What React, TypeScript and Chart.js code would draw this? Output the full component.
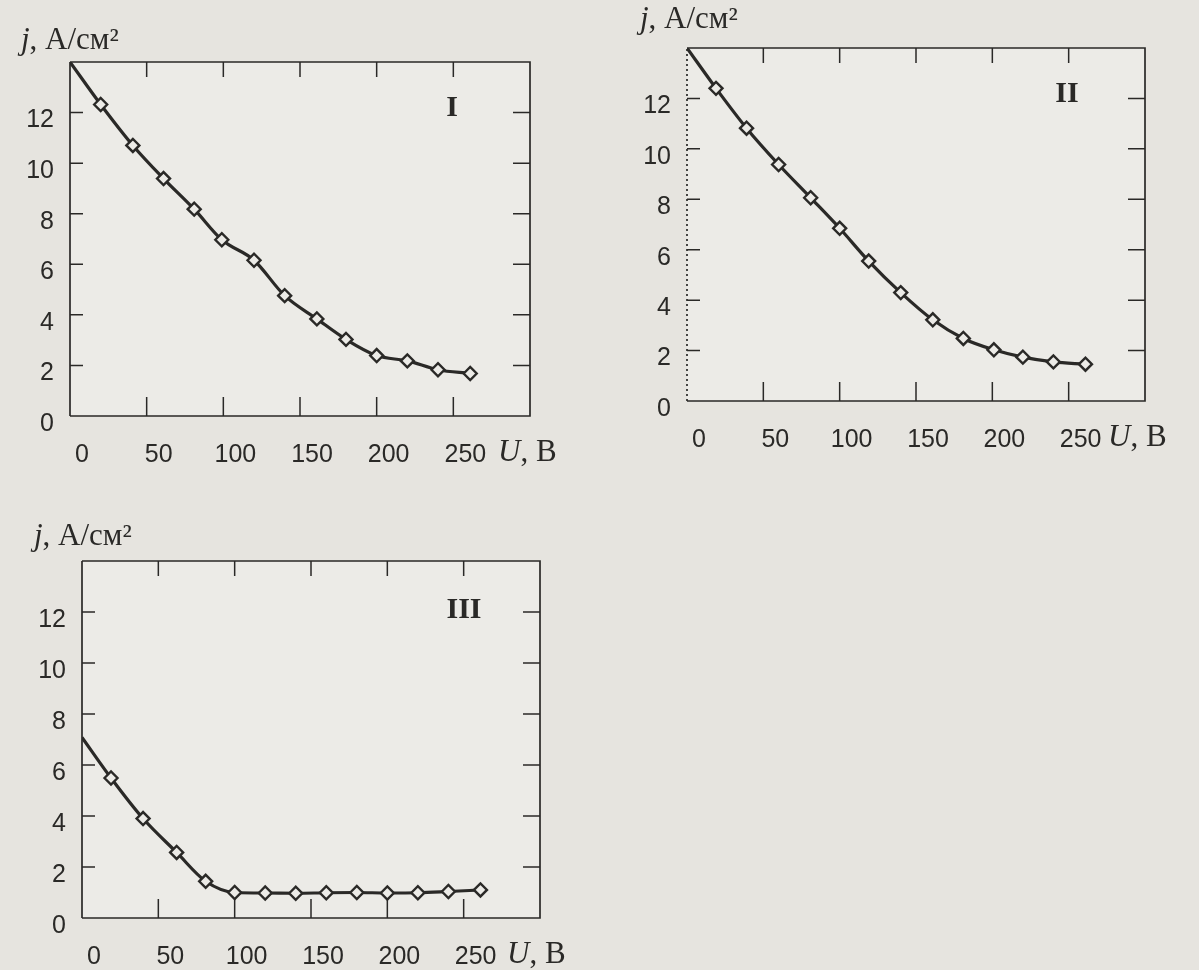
import React, { useEffect, useRef } from "react";
import { Chart, registerables } from "chart.js";

Chart.register(...registerables);

// Inward tick positions shared by all three panels
const voltageTicks = [50, 100, 150, 200, 250];
const currentTicks = [2, 4, 6, 8, 10, 12];

// Panel I: current density j (A/cm²) vs voltage U (V)
const uI = [0, 20, 41, 61, 81, 99, 120, 140, 161, 180, 200, 220, 240, 261];
const jI = [14, 12.32, 10.7, 9.39, 8.18, 6.97, 6.16, 4.76, 3.84, 3.03, 2.39, 2.18, 1.83, 1.68];

// Panel II
const uII = [0, 19, 39, 60, 81, 100, 119, 140, 161, 181, 201, 220, 240, 261];
const jII = [14, 12.4, 10.82, 9.38, 8.06, 6.85, 5.55, 4.3, 3.22, 2.48, 2.03, 1.74, 1.55, 1.46];

// Panel III
const uIII = [0, 19, 40, 62, 81, 100, 120, 140, 160, 180, 200, 220, 240, 261];
const jIII = [7.08, 5.49, 3.9, 2.57, 1.44, 1.0, 0.98, 0.97, 0.99, 1.0, 0.98, 0.99, 1.04, 1.1];

const PAPER = "#e6e4df";
const PLOT_BG = "#ecebe7";
const INK = "#2a2927";
const SERIF = '"Liberation Serif", "DejaVu Serif", serif';
const SANS = '"Liberation Sans", Arial, sans-serif';
const TICK_FONT = 25;

type Frame = { l: number; t: number; r: number; b: number };

type PanelProps = {
  left: number;
  top: number;
  width: number;
  height: number;
  frame: Frame;
  roman: string;
  romanPos: [number, number];
  yTitlePos: [number, number];
  xTitleDx: number;
  dottedLeft?: boolean;
  u: number[];
  j: number[];
};

function Panel(props: PanelProps) {
  const ref = useRef<HTMLCanvasElement | null>(null);

  useEffect(() => {
    const canvas = ref.current;
    if (!canvas) return;
    const { frame, width, height } = props;
    const xAxisH = 60;
    const xPad = 24;

    const decor = {
      id: "decor",
      beforeDraw(chart: any) {
        const { ctx, chartArea: a } = chart;
        ctx.save();
        ctx.fillStyle = PLOT_BG;
        ctx.fillRect(a.left, a.top, a.right - a.left, a.bottom - a.top);
        ctx.restore();
      },
      beforeDatasetsDraw(chart: any) {
        const { ctx, chartArea: a, scales } = chart;
        const xs = scales.x;
        const ys = scales.y;
        ctx.save();
        ctx.strokeStyle = INK;
        ctx.lineWidth = 1.7;
        // frame: top, right and bottom edges
        ctx.beginPath();
        ctx.moveTo(a.left, a.top);
        ctx.lineTo(a.right, a.top);
        ctx.lineTo(a.right, a.bottom);
        ctx.lineTo(a.left, a.bottom);
        ctx.stroke();
        // left edge (dotted on panel II)
        ctx.beginPath();
        if (props.dottedLeft) ctx.setLineDash([2, 3]);
        ctx.moveTo(a.left, a.bottom);
        ctx.lineTo(a.left, a.top);
        ctx.stroke();
        ctx.setLineDash([]);
        // inward tick marks on all four sides
        ctx.lineWidth = 1.5;
        ctx.beginPath();
        for (const v of currentTicks) {
          const y = ys.getPixelForValue(v);
          ctx.moveTo(a.left, y);
          ctx.lineTo(a.left + 13, y);
          ctx.moveTo(a.right, y);
          ctx.lineTo(a.right - 17, y);
        }
        for (const v of voltageTicks) {
          const x = xs.getPixelForValue(v);
          ctx.moveTo(x, a.bottom);
          ctx.lineTo(x, a.bottom - 19);
          ctx.moveTo(x, a.top);
          ctx.lineTo(x, a.top + 15);
        }
        ctx.stroke();
        ctx.restore();
      },
      afterDraw(chart: any) {
        const { ctx, chartArea: a } = chart;
        ctx.save();
        ctx.fillStyle = INK;
        ctx.textBaseline = "middle";
        ctx.textAlign = "left";

        // y-axis title: j, А/см²
        let x = a.left + props.yTitlePos[0];
        const yT = a.top + props.yTitlePos[1];
        ctx.font = `italic 31px ${SERIF}`;
        ctx.fillText("j", x, yT);
        x += ctx.measureText("j").width;
        ctx.font = `31px ${SERIF}`;
        ctx.fillText(", А/см²", x, yT);

        // x-axis title: U, В
        let xx = a.right + props.xTitleDx;
        const yX = a.bottom + xPad + TICK_FONT / 2;
        ctx.font = `italic 31px ${SERIF}`;
        ctx.fillText("U", xx, yX);
        xx += ctx.measureText("U").width;
        ctx.font = `31px ${SERIF}`;
        ctx.fillText(", В", xx, yX);

        // panel numeral
        ctx.textAlign = "center";
        ctx.font = `bold 30px ${SERIF}`;
        ctx.fillText(props.roman, a.right + props.romanPos[0], a.top + props.romanPos[1]);
        ctx.restore();
      },
    };

    const chart = new Chart(canvas, {
      type: "line",
      data: {
        datasets: [
          {
            data: props.u.map((v, i) => ({ x: v, y: props.j[i] })),
            borderColor: INK,
            borderWidth: 3.2,
            cubicInterpolationMode: "monotone",
            pointStyle: "rectRot",
            pointRadius: props.u.map((_, i) => (i === 0 ? 0 : 6.5)),
            pointBorderWidth: 2.4,
            pointBorderColor: INK,
            pointBackgroundColor: PLOT_BG,
            fill: false,
          },
        ],
      },
      options: {
        animation: false,
        responsive: false,
        devicePixelRatio: 1,
        layout: {
          padding: {
            left: 0,
            top: frame.t,
            right: width - frame.r,
            bottom: height - frame.b - xAxisH,
          },
        },
        plugins: {
          legend: { display: false },
          tooltip: { enabled: false },
          title: { display: false },
        },
        scales: {
          x: {
            type: "linear",
            min: 0,
            max: 300,
            grid: { display: false, drawTicks: false },
            border: { display: false },
            afterFit: (s: any) => {
              s.height = xAxisH;
            },
            ticks: {
              stepSize: 50,
              padding: xPad,
              labelOffset: 12,
              color: INK,
              font: { family: SANS, size: TICK_FONT },
              maxRotation: 0,
              autoSkip: false,
              callback: (v: any) => (v === 300 ? "" : String(v)),
            },
          },
          y: {
            type: "linear",
            min: 0,
            max: 14,
            grid: { display: false, drawTicks: false },
            border: { display: false },
            afterFit: (s: any) => {
              s.width = frame.l;
            },
            ticks: {
              stepSize: 2,
              padding: 16,
              labelOffset: 8,
              color: INK,
              font: { family: SANS, size: TICK_FONT },
              autoSkip: false,
              callback: (v: any) => (v === 14 ? "" : String(v)),
            },
          },
        },
      },
      plugins: [decor],
    } as any);

    return () => chart.destroy();
  }, []);

  return (
    <div
      style={{
        position: "absolute",
        left: props.left,
        top: props.top,
        width: props.width,
        height: props.height,
      }}
    >
      <canvas ref={ref} width={props.width} height={props.height} style={{ display: "block" }} />
    </div>
  );
}

export default function App() {
  useEffect(() => {
    document.body.style.margin = "0";
    document.body.style.background = PAPER;
  }, []);

  return (
    <div
      style={{
        position: "absolute",
        left: 0,
        top: 0,
        width: 1199,
        height: 970,
        background: PAPER,
        overflow: "hidden",
      }}
    >
      <Panel
        left={0}
        top={0}
        width={595}
        height={470}
        frame={{ l: 70, t: 62, r: 530, b: 416 }}
        roman="I"
        romanPos={[-78, 46]}
        yTitlePos={[-49, -21]}
        xTitleDx={-32}
        u={uI}
        j={jI}
      />
      <Panel
        left={600}
        top={0}
        width={599}
        height={470}
        frame={{ l: 87, t: 48, r: 545, b: 401 }}
        roman="II"
        romanPos={[-78, 46]}
        yTitlePos={[-47, -28]}
        xTitleDx={-37}
        dottedLeft
        u={uII}
        j={jII}
      />
      <Panel
        left={0}
        top={470}
        width={600}
        height={500}
        frame={{ l: 82, t: 91, r: 540, b: 448 }}
        roman="III"
        romanPos={[-76, 49]}
        yTitlePos={[-48, -24]}
        xTitleDx={-33}
        u={uIII}
        j={jIII}
      />
    </div>
  );
}
